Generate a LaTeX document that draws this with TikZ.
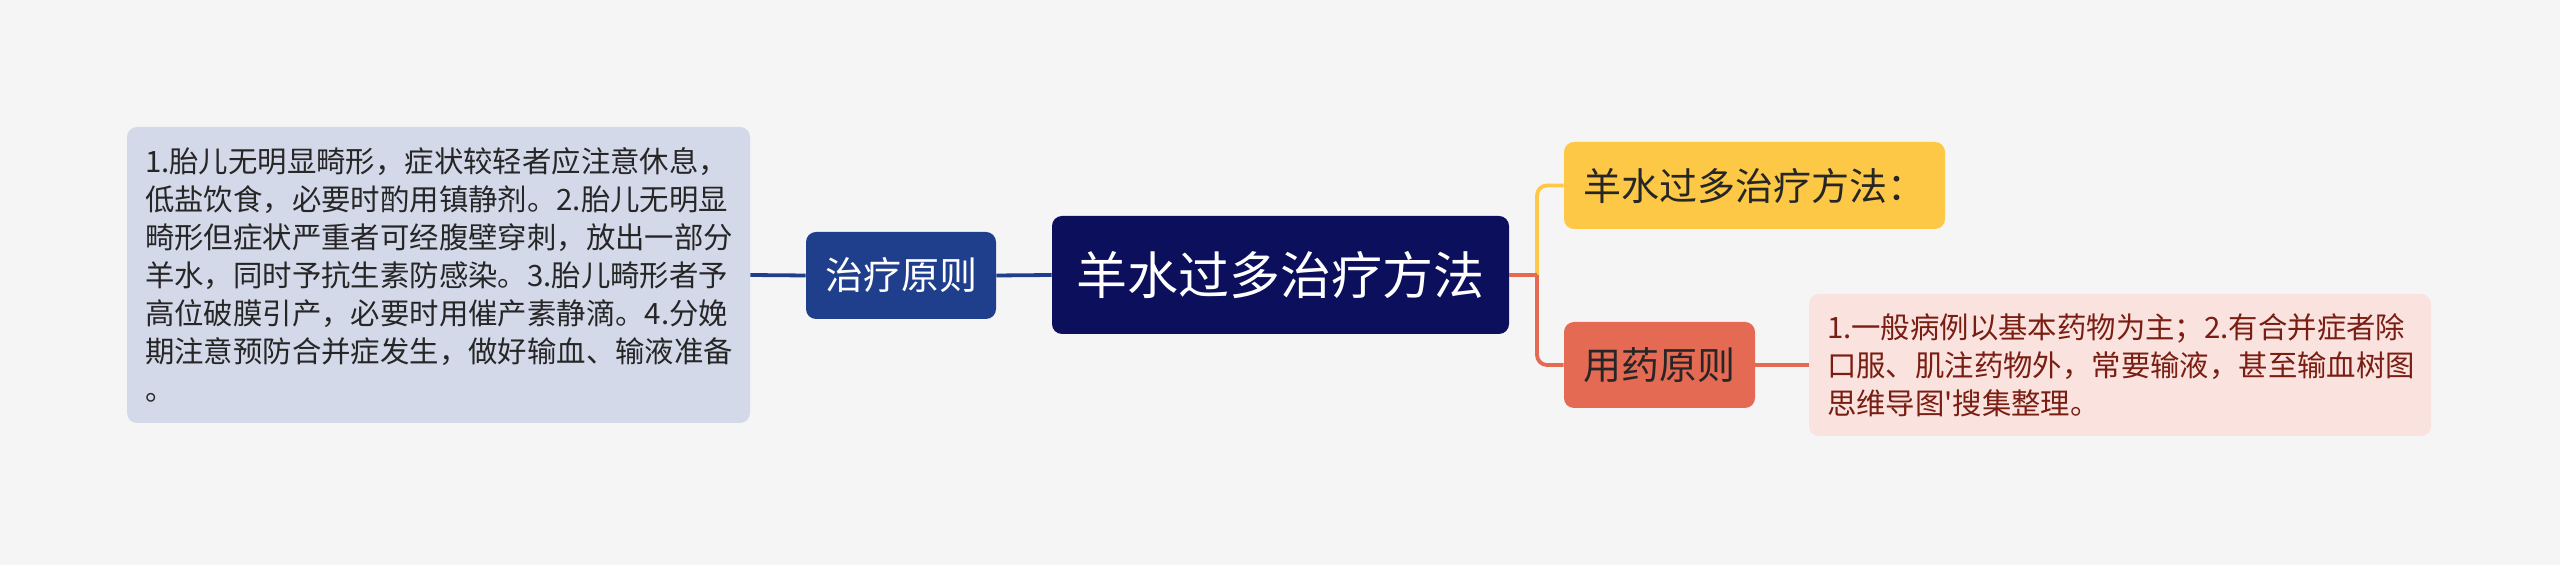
\documentclass[tikz,border=0pt]{standalone}
\usepackage{fontspec}
\newfontfamily\cjk{Noto Sans CJK SC}
\definecolor{bgcol}{HTML}{F5F5F5}
\definecolor{navy}{HTML}{0B0F5C}
\definecolor{blueish}{HTML}{1F3E8C}
\definecolor{lavender}{HTML}{D4D9EA}
\definecolor{goldish}{HTML}{FCC845}
\definecolor{coral}{HTML}{E46A53}
\definecolor{blush}{HTML}{FAE3DF}
\definecolor{maroon}{HTML}{7A1D12}
\tikzset{
	box/.style={rounded corners=5pt, inner sep=0pt, align=center},
	note/.style={rounded corners=5pt, inner xsep=9pt, inner ysep=0pt, align=left,
		font=\cjk\fontsize{14.7}{19}\selectfont},
	branch/.style={line width=1.9pt},
}

\begin{document}
\begin{tikzpicture}[x=0.5pt, y=-0.5pt]
			%%%%% START %%%%%
			
			\fill[bgcol] (0, 0) rectangle (2560, 565);
			\useasboundingbox (0, 0) rectangle (2560, 565);
			
			\node[box, fill=navy, text=white, minimum width=228.5pt, minimum height=59pt,
				font=\cjk\fontsize{25.5}{30}\selectfont] (main) at (1280.5, 275) {羊水过多治疗方法};
			
			\node[box, fill=blueish, text=white, minimum width=95pt, minimum height=43.5pt,
				font=\cjk\fontsize{19}{23}\selectfont] (zhiliao) at (901, 275.5) {治疗原则};
			\node[note, fill=lavender, text=black!85, text width=293.5pt, minimum height=148pt]
				(zhiliaonote) at (438.5, 275) {1.胎儿无明显畸形，症状较轻者应注意休息，\\
				低盐饮食，必要时酌用镇静剂。2.胎儿无明显\\
				畸形但症状严重者可经腹壁穿刺，放出一部分\\
				羊水，同时予抗生素防感染。3.胎儿畸形者予\\
				高位破膜引产，必要时用催产素静滴。4.分娩\\
				期注意预防合并症发生，做好输血、输液准备\\
				。};
			
			\node[box, fill=goldish, text=black!85, minimum width=190.5pt, minimum height=43.5pt,
				font=\cjk\fontsize{19}{23}\selectfont] (fangfa) at (1754.5, 185.5) {羊水过多治疗方法：};
			\node[box, fill=coral, text=black!85, minimum width=95.5pt, minimum height=43pt,
				font=\cjk\fontsize{19}{23}\selectfont] (yongyao) at (1659.5, 365) {用药原则};
			\node[note, fill=blush, text=maroon, text width=293pt, minimum height=71pt]
				(yongyaonote) at (2120, 365) {1.一般病例以基本药物为主；2.有合并症者除\\
				口服、肌注药物外，常要输液，甚至输血树图\\
				思维导图'搜集整理。};
			
			% left side
			\draw[branch, color=blueish] (main.west) -- (zhiliao.east);
			\draw[branch, color=blueish] (zhiliao.west) -- (zhiliaonote.east);
			
			% right side
			\coordinate (fork) at (1537, 275);
			\draw[branch, color=goldish, rounded corners=5pt] (fork) |- (fangfa.west);
			\draw[branch, color=coral] (main.east) -- (fork);
			\draw[branch, color=coral, rounded corners=5pt] (fork) |- (yongyao.west);
			\draw[branch, color=coral] (yongyao.east) -- (yongyaonote.west);
			
			%%%%% END %%%%%
		\end{tikzpicture}
\end{document}
